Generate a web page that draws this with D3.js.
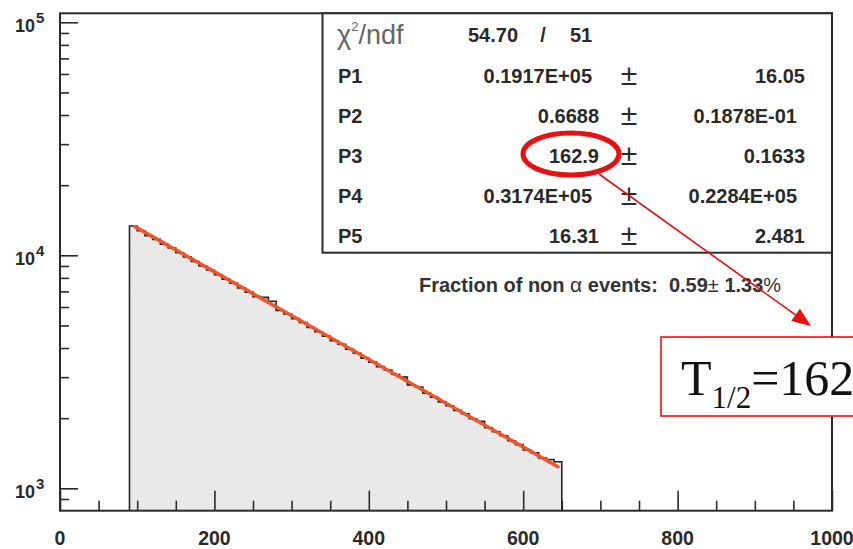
<!DOCTYPE html>
<html><head><meta charset="utf-8">
<script src="https://cdn.jsdelivr.net/npm/d3@7"></script>
<style>html,body{margin:0;padding:0;background:#fff;}svg{display:block;}text{white-space:pre;}</style>
</head><body>
<svg id="c" width="853" height="549"></svg>
<script>
// ---- data ----
const binStart = 90, binWidth = 10;
const binCounts = [13350,12750,12150,11700,11150,10750,10250,9850,9400,9000,
  8650,8250,7900,7600,7250,6950,6650,6600,6350,5800,
  5600,5350,5150,4900,4700,4500,4300,4150,3950,3800,
  3620,3480,3330,3220,3080,3000,2780,2720,2560,2460,
  2350,2260,2160,2090,1990,1940,1820,1750,1680,1600,
  1540,1460,1420,1350,1330,1300];
const fitX = [97, 645];
const fitY = [13280, 1238];
const xMajorTicks = [0,200,400,600,800,1000];
const yMajorTicks = [1000,10000,100000];
const yTickExp = ["3","4","5"];
const parNames = ["P1","P2","P3","P4","P5"];
const parValues = ["0.1917E+05","0.6688","162.9","0.3174E+05","16.31"];
const parErrors = ["16.05","0.1878E-01","0.1633","0.2284E+05","2.481"];
const chi2 = "54.70", ndf = "51";
const halfLife = "162";

// ---- layout ----
const svg = d3.select("#c");
const L = 60, R = 832, T = 13.3, B = 510.7;
const x = d3.scaleLinear().domain([0,1000]).range([L,R]);
const y = d3.scaleLog().domain([801.6,109300]).range([B,T]);
const FONT = "'Liberation Sans', Arial, Helvetica, sans-serif";
const ink = "#2a2a2a";

// histogram step path
const edges = binCounts.map((c,i)=>binStart+i*binWidth);
let pts = [[binStart, y.domain()[0]]];
binCounts.forEach((c,i)=>{ pts.push([edges[i], c]); pts.push([edges[i]+binWidth, c]); });
pts.push([binStart+binCounts.length*binWidth, y.domain()[0]]);
const line = d3.line().x(d=>x(d[0])).y(d=>y(d[1]));
svg.append("path").attr("d", line(pts)+"Z").attr("fill","#e9e9e9").attr("stroke","none");
svg.append("path").attr("d", line(pts)).attr("fill","none").attr("stroke","#222").attr("stroke-width",1.6);

// fit
svg.append("path").attr("d", line(fitX.map((v,i)=>[v,fitY[i]])))
  .attr("fill","none").attr("stroke","#f0552a").attr("stroke-width",3.6).attr("stroke-linecap","round");

// axes ticks
const xMinor = d3.range(0,1001,50).filter(v=>!xMajorTicks.includes(v));
const gx = svg.append("g").attr("transform",`translate(0,${B})`);
gx.call(d3.axisBottom(x).tickValues(xMajorTicks).tickSize(-20).tickFormat(""));
const gx2 = svg.append("g").attr("transform",`translate(0,${B})`);
gx2.call(d3.axisBottom(x).tickValues(xMinor).tickSize(-10).tickFormat(""));
[gx,gx2].forEach(g=>{g.select(".domain").remove(); g.selectAll("line").attr("stroke",ink).attr("stroke-width",1.6);});
xMajorTicks.forEach(v=>{
  svg.append("text").attr("x",x(v)).attr("y",545).attr("text-anchor","middle")
    .attr("font-family",FONT).attr("font-weight","bold").attr("font-size",19.5).attr("fill",ink).text(v);
});
const yMinor = [900,2000,3000,4000,5000,6000,7000,8000,9000,20000,30000,40000,50000,60000,70000,80000,90000];
const gy = svg.append("g").attr("transform",`translate(${L},0)`);
gy.call(d3.axisLeft(y).tickValues(yMajorTicks).tickSize(-18).tickFormat(""));
const gy2 = svg.append("g").attr("transform",`translate(${L},0)`);
gy2.call(d3.axisLeft(y).tickValues(yMinor).tickSize(-9).tickFormat(""));
[gy,gy2].forEach(g=>{g.select(".domain").remove(); g.selectAll("line").attr("stroke",ink).attr("stroke-width",1.6);});
yMajorTicks.forEach((v,i)=>{
  const t = svg.append("text").attr("x",15).attr("y",y(v)+9.5)
    .attr("font-family",FONT).attr("font-weight","bold").attr("font-size",18).attr("fill",ink);
  t.append("tspan").text("10");
  t.append("tspan").attr("dx",1).attr("dy",-9).attr("font-size",15).text(yTickExp[i]);
});

// frame
svg.append("rect").attr("x",L).attr("y",T).attr("width",R-L).attr("height",B-T)
  .attr("fill","none").attr("stroke",ink).attr("stroke-width",2);

// stats box
svg.append("rect").attr("x",322.5).attr("y",T).attr("width",R-322.5).attr("height",252.7-T)
  .attr("fill","#fff").attr("stroke",ink).attr("stroke-width",2);
const chiT = svg.append("text").attr("x",337).attr("y",44).attr("font-family",FONT)
  .attr("font-size",27).attr("fill","#666");
chiT.append("tspan").text("χ");
chiT.append("tspan").attr("dy",-13).attr("font-size",13).text("2");
chiT.append("tspan").attr("dy",13).text("/ndf");
const bold = (sel)=>sel.attr("font-family",FONT).attr("font-weight","bold").attr("font-size",20).attr("fill",ink);
bold(svg.append("text").attr("x",468).attr("y",42)).text(chi2);
bold(svg.append("text").attr("x",543).attr("y",42).attr("text-anchor","middle")).text("/");
bold(svg.append("text").attr("x",570).attr("y",42)).text(ndf);
parNames.forEach((n,i)=>{
  const by = 82.7 + 40*i;
  bold(svg.append("text").attr("x",338).attr("y",by)).text(n);
  const v = parValues[i];
  bold(svg.append("text").attr("x", v.includes("E") ? 592 : 599).attr("y",by).attr("text-anchor","end")).text(v);
  svg.append("text").attr("x",629).attr("y",by+2).attr("text-anchor","middle")
    .attr("font-family",FONT).attr("font-size",30).attr("fill",ink).text("±");
  const e = parErrors[i];
  bold(svg.append("text").attr("x", e.includes("E") ? 797 : 805).attr("y",by).attr("text-anchor","end")).text(e);
});

// fraction text
const fr = svg.append("text").attr("x",419).attr("y",291.5).attr("font-family",FONT)
  .attr("font-size",20).attr("fill","#333").attr("font-weight","bold");
fr.append("tspan").text("Fraction of non ");
fr.append("tspan").attr("font-weight","normal").attr("font-size",21).text("α");
fr.append("tspan").text(" events:\u00a0\u00a00.59");
fr.append("tspan").attr("font-weight","normal").text("±");
fr.append("tspan").text(" 1.33");
fr.append("tspan").attr("font-weight","normal").text("%");

// annotation: ellipse + arrow
svg.append("ellipse").attr("cx",571).attr("cy",154).attr("rx",48).attr("ry",21)
  .attr("fill","none").attr("stroke","#e81010").attr("stroke-width",5);
const a0=[599,174], a1=[811,326];
const dx=a1[0]-a0[0], dy=a1[1]-a0[1], len=Math.hypot(dx,dy), ux=dx/len, uy=dy/len;
const hb=[a1[0]-ux*19, a1[1]-uy*19];
svg.append("line").attr("x1",a0[0]).attr("y1",a0[1]).attr("x2",hb[0]).attr("y2",hb[1])
  .attr("stroke","#e81010").attr("stroke-width",1.6);
svg.append("path").attr("d",`M${a1[0]},${a1[1]}L${hb[0]-uy*7.5},${hb[1]+ux*7.5}L${hb[0]+uy*7.5},${hb[1]-ux*7.5}Z`)
  .attr("fill","#e81010");

// T1/2 box
svg.append("rect").attr("x",661).attr("y",337).attr("width",200).attr("height",79)
  .attr("fill","#fff").attr("stroke","#e81010").attr("stroke-width",1.6);
const tt = svg.append("text").attr("x",681).attr("y",395).attr("font-family","'Liberation Serif', 'Times New Roman', serif")
  .attr("font-size",50).attr("fill","#111");
tt.append("tspan").text("T");
tt.append("tspan").attr("dy",13).attr("font-size",31).text("1/2");
tt.append("tspan").attr("dy",-13).text("="+halfLife);
</script>
</body></html>
